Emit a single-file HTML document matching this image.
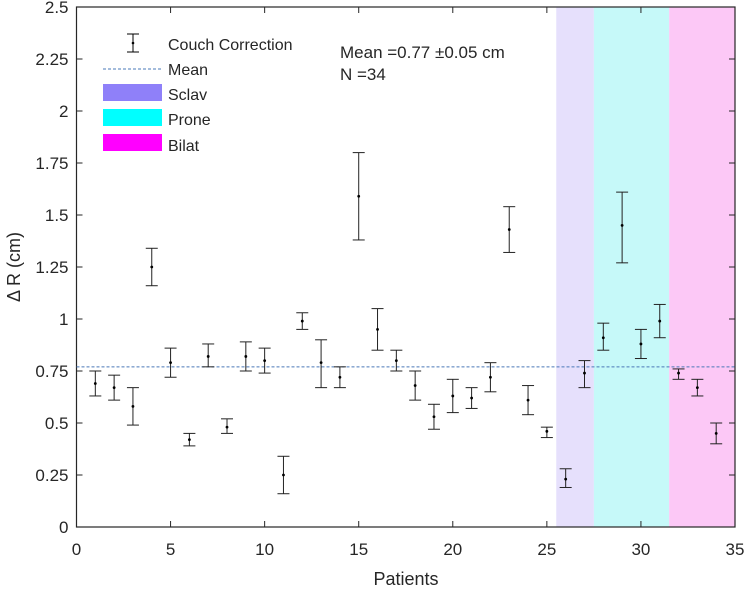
<!DOCTYPE html>
<html><head><meta charset="utf-8"><style>
body{margin:0;background:#fff}
svg text{font-family:"Liberation Sans",sans-serif;fill:#262626}
</style></head><body>
<svg id="chart" width="747" height="588" xmlns="http://www.w3.org/2000/svg">
<g id="bands"></g>
<g id="grid"></g>
<g id="marks"></g>
<g id="legend">
  <line x1="133" y1="34" x2="133" y2="52" stroke="#000" stroke-width="1"/>
  <line x1="127" y1="34" x2="139" y2="34" stroke="#000"/>
  <line x1="127" y1="52" x2="139" y2="52" stroke="#000"/>
  <circle cx="133" cy="43" r="1.3" fill="#000"/>
  <text x="168" y="50" font-size="16">Couch Correction</text>
  <line x1="103" y1="69" x2="162" y2="69" stroke="#4a78b8" stroke-dasharray="3,2"/>
  <text x="168" y="75" font-size="16">Mean</text>
  <rect x="103" y="84" width="59" height="17" fill="#8f80f9"/>
  <text x="168" y="100" font-size="16">Sclav</text>
  <rect x="103" y="109" width="59" height="17" fill="#00ffff"/>
  <text x="168" y="125" font-size="16">Prone</text>
  <rect x="103" y="134" width="59" height="17" fill="#ff00ff"/>
  <text x="168" y="151" font-size="16">Bilat</text>
</g>
<text x="340" y="58" font-size="17">Mean =0.77 ±0.05 cm</text>
<text x="340" y="80" font-size="17">N =34</text>
<text x="406" y="585" font-size="18" text-anchor="middle">Patients</text>
<text transform="translate(20,267) rotate(-90)" font-size="18" text-anchor="middle">Δ R (cm)</text>
</svg>
<script>
const patients=[1,2,3,4,5,6,7,8,9,10,11,12,13,14,15,16,17,18,19,20,21,22,23,24,25,26,27,28,29,30,31,32,33,34];
const values=[0.69,0.67,0.58,1.25,0.79,0.42,0.82,0.48,0.82,0.80,0.25,0.99,0.79,0.72,1.59,0.95,0.80,0.68,0.53,0.63,0.62,0.72,1.43,0.61,0.46,0.23,0.74,0.91,1.45,0.88,0.99,0.74,0.67,0.45];
const lows=[0.63,0.61,0.49,1.16,0.72,0.39,0.77,0.45,0.75,0.74,0.16,0.95,0.67,0.67,1.38,0.85,0.75,0.61,0.47,0.55,0.57,0.65,1.32,0.54,0.43,0.19,0.67,0.85,1.27,0.81,0.91,0.71,0.63,0.40];
const highs=[0.75,0.73,0.67,1.34,0.86,0.45,0.88,0.52,0.89,0.86,0.34,1.03,0.90,0.77,1.80,1.05,0.85,0.75,0.59,0.71,0.67,0.79,1.54,0.68,0.48,0.28,0.80,0.98,1.61,0.95,1.07,0.76,0.71,0.50];
const meanValue=0.77;
const bandStarts=[25.5,27.5,31.5];
const bandEnds=[27.5,31.5,35];
const bandNames=["sclav-band","prone-band","bilat-band"];
const bandColors=["#e6e0fc","#c6f9f9","#fcc8f6"];
const xTicks=[0,5,10,15,20,25,30,35];
const yTicks=[0,0.25,0.5,0.75,1,1.25,1.5,1.75,2,2.25,2.5];
const yTickLabels=["0","0.25","0.5","0.75","1","1.25","1.5","1.75","2","2.25","2.5"];

const L=76.5,R=735,T=7,B=527;
const xs=v=>L+(v-0)/35*(R-L);
const ys=v=>B-(v-0)/2.5*(B-T);
const NS="http://www.w3.org/2000/svg";
function mk(tag,parent,attrs){const e=document.createElementNS(NS,tag);for(const k in attrs)e.setAttribute(k,attrs[k]);parent.appendChild(e);return e;}
const bands=document.getElementById('bands'),grid=document.getElementById('grid'),marks=document.getElementById('marks');
bandStarts.forEach((s,i)=>{
  const r=mk('rect',bands,{x:xs(s),y:T,width:xs(bandEnds[i])-xs(s),height:B-T,fill:bandColors[i]});
  
  
});
const box=mk('rect',grid,{x:L,y:T,width:R-L,height:B-T,fill:"none",stroke:"#262626","stroke-width":1.2});


xTicks.forEach(t=>{
  const x=xs(t);
  mk('line',grid,{x1:x,x2:x,y1:B,y2:B-6,stroke:"#262626"});
  mk('line',grid,{x1:x,x2:x,y1:T,y2:T+6,stroke:"#262626"});
  const tx=mk('text',grid,{x:x,y:B+28,"font-size":17,"text-anchor":"middle"});
  tx.textContent=t;
  
  
});
yTicks.forEach((t,i)=>{
  const y=ys(t);
  mk('line',grid,{x1:L,x2:L+6,y1:y,y2:y,stroke:"#262626"});
  mk('line',grid,{x1:R,x2:R-6,y1:y,y2:y,stroke:"#262626"});
  const tx=mk('text',grid,{x:L-8,y:y+6,"font-size":17,"text-anchor":"end"});
  tx.textContent=yTickLabels[i];
  
  
});
const ml=mk('line',marks,{x1:L,x2:R,y1:ys(meanValue),y2:ys(meanValue),stroke:"#4a78b8","stroke-dasharray":"3,2"});


patients.forEach((p,i)=>{
  const g=mk('g',marks,{});
  
  
  const x=xs(p),y1=ys(lows[i]),y2=ys(highs[i]);
  mk('line',g,{x1:x,x2:x,y1:y1,y2:y2,stroke:"#222"});
  mk('line',g,{x1:x-6,x2:x+6,y1:y1,y2:y1,stroke:"#222"});
  mk('line',g,{x1:x-6,x2:x+6,y1:y2,y2:y2,stroke:"#222"});
  mk('circle',g,{cx:x,cy:ys(values[i]),r:1.4,fill:"#000"});
});
</script>
</body></html>
